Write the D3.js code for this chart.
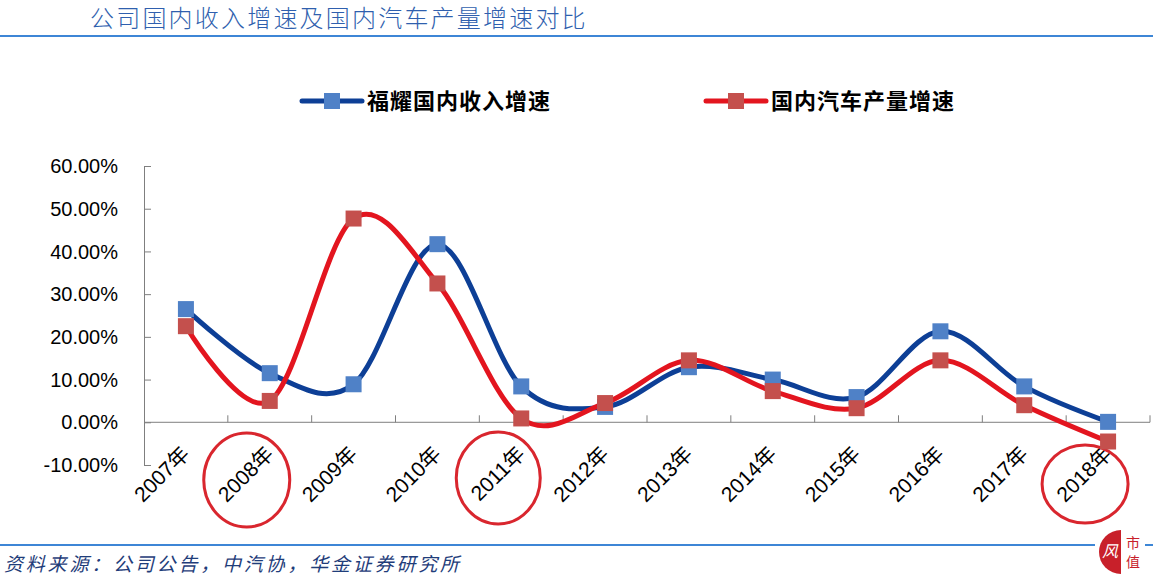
<!DOCTYPE html>
<html>
<head>
<meta charset="utf-8">
<script src="https://cdn.jsdelivr.net/npm/d3@7"></script>
<style>
  body { margin: 0; background: #fff; }
  svg { display: block; }
</style>
</head>
<body>
<div id="chart"></div>
<script>
// data (percent)
var years = ["2007年", "2008年", "2009年", "2010年", "2011年", "2012年",
             "2013年", "2014年", "2015年", "2016年", "2017年", "2018年"];
var fuyaoGrowth = [26.5, 11.5, 8.9, 41.7, 8.4, 3.6, 12.9, 10.0, 5.9, 21.3, 8.4, 0.1];
var carGrowth = [22.5, 5.0, 47.7, 32.5, 0.9, 4.5, 14.5, 7.3, 3.3, 14.5, 4.0, -4.5];
var yTicks = [-10, 0, 10, 20, 30, 40, 50, 60];
var circled = ["2008年", "2011年", "2018年"];
var seriesNames = ["福耀国内收入增速", "国内汽车产量增速"];

var W = 1153, H = 585;
var cjk = "'Noto Sans CJK SC', 'Noto Sans', sans-serif";
var latin = "'Liberation Sans', Arial, 'Noto Sans CJK SC', sans-serif";

var svg = d3.select("#chart")
  .append("svg")
    .attr("width", W)
    .attr("height", H);

// title + rules
svg.append("text")
  .attr("x", 90)
  .attr("y", 27)
  .attr("font-family", cjk)
  .attr("font-size", 24)
  .attr("font-weight", 300)
  .attr("letter-spacing", 2.2)
  .attr("fill", "#2f5fae")
  .text("公司国内收入增速及国内汽车产量增速对比");

svg.append("line")
  .attr("x1", 0).attr("x2", W)
  .attr("y1", 36).attr("y2", 36)
  .attr("stroke", "#3d86d6")
  .attr("stroke-width", 2);

svg.append("line")
  .attr("x1", 0).attr("x2", W)
  .attr("y1", 545).attr("y2", 545)
  .attr("stroke", "#3d86d6")
  .attr("stroke-width", 2);

svg.append("text")
  .attr("x", 4)
  .attr("y", 571)
  .attr("font-family", cjk)
  .attr("font-size", 19)
  .attr("font-style", "italic")
  .attr("letter-spacing", 2.8)
  .attr("fill", "#1f3d7a")
  .text("资料来源：公司公告，中汽协，华金证券研究所");

// scales
var x = d3.scaleBand()
  .domain(years)
  .range([144, 1150]);

var y = d3.scaleLinear()
  .domain([-10, 60])
  .range([465, 166]);

// y axis (ticks inward)
var yAxis = svg.append("g")
  .attr("transform", "translate(144,0)")
  .call(d3.axisRight(y).tickValues(yTicks).tickSize(7).tickFormat(""));
yAxis.select(".domain").attr("stroke", "#7f7f7f");
yAxis.selectAll(".tick line").attr("stroke", "#7f7f7f");

svg.append("g")
  .selectAll("text")
  .data(yTicks)
  .enter()
  .append("text")
    .attr("x", 118)
    .attr("y", function(d) { return y(d); })
    .attr("dy", "0.36em")
    .attr("text-anchor", "end")
    .attr("font-family", latin)
    .attr("font-size", 20)
    .attr("fill", "#000")
    .text(function(d) { return d.toFixed(2) + "%"; });

// x axis at zero, ticks on band edges pointing up
var edges = years.map(function(d) { return x(d); }).concat([x.range()[1]]);
svg.append("line")
  .attr("x1", 144).attr("x2", 1150)
  .attr("y1", y(0)).attr("y2", y(0))
  .attr("stroke", "#7f7f7f");
svg.append("g")
  .selectAll("line")
  .data(edges.slice(1))
  .enter()
  .append("line")
    .attr("x1", function(d) { return d; })
    .attr("x2", function(d) { return d; })
    .attr("y1", y(0) - 7)
    .attr("y2", y(0))
    .attr("stroke", "#7f7f7f");

svg.append("g")
  .selectAll("text")
  .data(years)
  .enter()
  .append("text")
    .attr("transform", function(d) {
      return "translate(" + (x(d) + x.bandwidth() / 2 + 5) + "," + (y(0) + 33) + ") rotate(-45)";
    })
    .attr("text-anchor", "end")
    .attr("font-family", latin)
    .attr("font-size", 21)
    .attr("fill", "#000")
    .text(function(d) { return d; });

// red circles around highlighted years
var ringPos = { "2008年": [480, 43, 47], "2011年": [478, 42, 46], "2018年": [484, 43, 39] };
svg.append("g")
  .selectAll("ellipse")
  .data(circled)
  .enter()
  .append("ellipse")
    .attr("cx", function(d) { return x(d) + x.bandwidth() / 2 - 23; })
    .attr("cy", function(d) { return ringPos[d][0]; })
    .attr("rx", function(d) { return ringPos[d][1]; })
    .attr("ry", function(d) { return ringPos[d][2]; })
    .attr("fill", "none")
    .attr("stroke", "#d9262e")
    .attr("stroke-width", 3);

// lines + markers
var series = [
  { name: seriesNames[0], values: fuyaoGrowth, line: "#0d3f96", marker: "#4f81c7" },
  { name: seriesNames[1], values: carGrowth, line: "#e3151f", marker: "#c4504d" }
];

var line = d3.line()
  .x(function(d, i) { return x(years[i]) + x.bandwidth() / 2; })
  .y(function(d) { return y(d); })
  .curve(d3.curveCardinal.tension(0));

var ms = 16;
series.forEach(function(s) {
  svg.append("path")
    .datum(s.values)
    .attr("d", line)
    .attr("fill", "none")
    .attr("stroke", s.line)
    .attr("stroke-width", 5)
    .attr("stroke-linecap", "round");
});
series.forEach(function(s) {
  svg.append("g")
    .selectAll("rect")
    .data(s.values)
    .enter()
    .append("rect")
      .attr("x", function(d, i) { return x(years[i]) + x.bandwidth() / 2 - ms / 2; })
      .attr("y", function(d) { return y(d) - ms / 2; })
      .attr("width", ms)
      .attr("height", ms)
      .attr("fill", s.marker);
});

// legend
var legendX = [302, 706];
series.forEach(function(s, i) {
  var g = svg.append("g").attr("transform", "translate(" + legendX[i] + ",101)");
  g.append("line")
    .attr("x1", 0).attr("x2", 60)
    .attr("stroke", s.line)
    .attr("stroke-width", 5)
    .attr("stroke-linecap", "round");
  g.append("rect")
    .attr("x", 30 - 8).attr("y", -8)
    .attr("width", 16).attr("height", 16)
    .attr("fill", s.marker);
  g.append("text")
    .attr("x", 65)
    .attr("y", 8)
    .attr("font-family", cjk)
    .attr("font-size", 22)
    .attr("font-weight", "bold")
    .attr("letter-spacing", 1)
    .attr("fill", "#000")
    .text(s.name);
});

// small logo, bottom right
var logo = svg.append("g").attr("transform", "translate(1121,552)");
logo.append("rect")
  .attr("x", -26).attr("y", -24).attr("width", 50).attr("height", 48)
  .attr("fill", "#fff");
logo.append("path")
  .attr("d", d3.arc()({ innerRadius: 0, outerRadius: 22, startAngle: Math.PI, endAngle: 2 * Math.PI }))
  .attr("fill", "#c8202a");
logo.append("text")
  .attr("x", -11).attr("y", 5)
  .attr("text-anchor", "middle")
  .attr("font-family", cjk)
  .attr("font-size", 16)
  .attr("font-style", "italic")
  .attr("fill", "#fff")
  .text("风");
logo.append("text")
  .attr("x", 12).attr("y", -4)
  .attr("text-anchor", "middle")
  .attr("font-family", cjk)
  .attr("font-size", 14)
  .attr("fill", "#c8202a")
  .text("市");
logo.append("text")
  .attr("x", 12).attr("y", 15)
  .attr("text-anchor", "middle")
  .attr("font-family", cjk)
  .attr("font-size", 14)
  .attr("fill", "#c8202a")
  .text("值");
</script>
</body>
</html>
